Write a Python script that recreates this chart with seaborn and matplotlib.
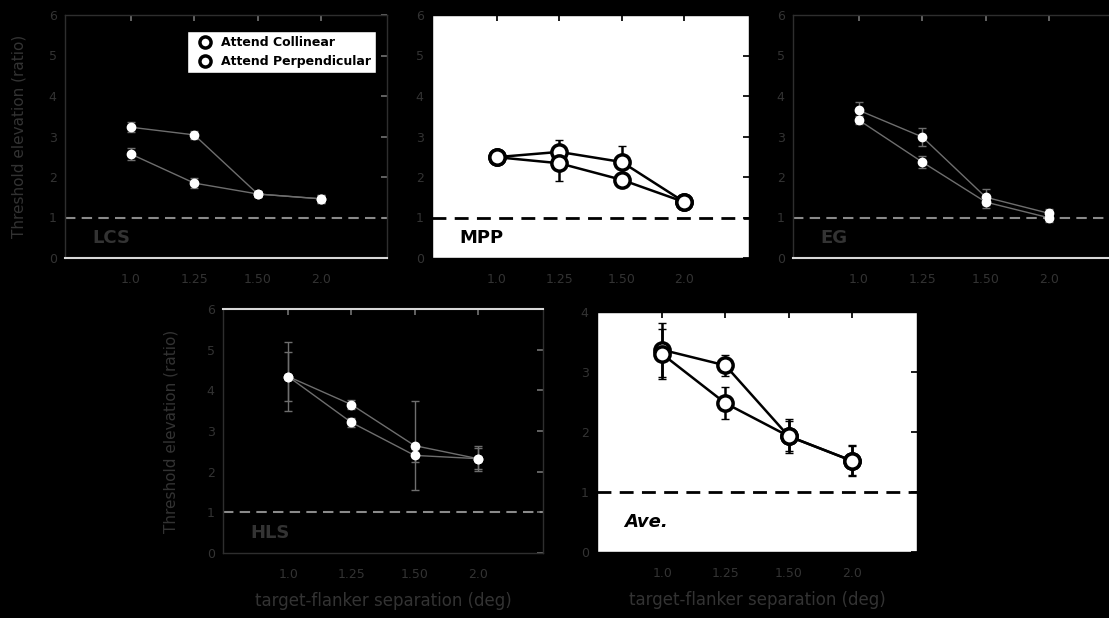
#!/usr/bin/env python3

import numpy as np
import pandas as pd
import seaborn as sns
import matplotlib.pyplot as plt
from matplotlib.lines import Line2D


sns.set_theme(style="white")
plt.rcParams["font.family"] = ["DejaVu Sans"]

sep_labels = ["1.0", "1.25", "1.50", "2.0"]
conditions = ["Attend Collinear", "Attend Perpendicular"]

# threshold elevation per observer, collinear / perpendicular
lcs_col = [3.23, 3.04, 1.58, 1.46]
lcs_perp = [2.57, 1.85, 1.58, 1.46]
lcs_col_err = [0.12, 0.10, 0.08, 0.10]
lcs_perp_err = [0.15, 0.12, 0.08, 0.10]

mpp_col = [2.49, 2.62, 2.37, 1.38]
mpp_perp = [2.49, 2.34, 1.93, 1.38]
mpp_col_err = [0.08, 0.30, 0.40, 0.12]
mpp_perp_err = [0.08, 0.45, 0.12, 0.12]

eg_col = [3.65, 2.99, 1.50, 1.10]
eg_perp = [3.41, 2.37, 1.38, 0.99]
eg_col_err = [0.20, 0.22, 0.20, 0.12]
eg_perp_err = [0.10, 0.15, 0.15, 0.10]

hls_col = [4.34, 3.65, 2.64, 2.32]
hls_perp = [4.34, 3.21, 2.40, 2.32]
hls_col_err = [0.85, 0.12, 1.10, 0.30]
hls_perp_err = [0.60, 0.10, 0.15, 0.25]

avg_col = [3.37, 3.11, 1.93, 1.52]
avg_perp = [3.30, 2.48, 1.93, 1.52]
avg_col_err = [0.45, 0.17, 0.28, 0.26]
avg_perp_err = [0.42, 0.27, 0.25, 0.24]

DIM = "#333333"

fig = plt.figure(figsize=(11.09, 6.18), dpi=100, facecolor="black")
W, H = 1109, 618


def add_axes(x0, y0, x1, y1):
    return fig.add_axes([x0 / W, 1 - y1 / H, (x1 - x0) / W, (y1 - y0) / H])


def panel(ax, col, perp, col_err, perp_err, name, ymax, light,
          italic=False, white_spine=None):
    pos = np.arange(len(sep_labels))
    df = pd.DataFrame({
        "pos": np.concatenate([pos, pos]),
        "thr": col + perp,
        "cond": [conditions[0]] * 4 + [conditions[1]] * 4,
    })
    fg = "black" if light else "#6e6e6e"
    ax.set_facecolor("white" if light else "black")
    ax.axhline(1, color="black" if light else "#8a8a8a", ls=(0, (5, 3)),
               lw=2 if light else 1.5, zorder=1)
    for vals, err in [(col, col_err), (perp, perp_err)]:
        ax.errorbar(pos, vals, yerr=err, fmt="none", ecolor=fg,
                    elinewidth=1.8 if light else 1, capsize=3, zorder=2)
    if light:
        mk = dict(markersize=11, markerfacecolor="white",
                  markeredgecolor="black", markeredgewidth=2.5)
    else:
        mk = dict(markersize=6, markerfacecolor="white",
                  markeredgecolor="white", markeredgewidth=1)
    sns.lineplot(data=df, x="pos", y="thr", hue="cond",
                 palette=[fg, fg], marker="o", lw=1.8 if light else 1,
                 legend=False, ax=ax, zorder=3, **mk)
    ax.set_xlim(-1.03, 4.03)
    ax.set_ylim(0, ymax)
    ax.set_xticks(pos, sep_labels)
    ax.set_yticks(range(ymax + 1))
    ax.set_xlabel("")
    ax.set_ylabel("")
    ax.tick_params(direction="in", top=True, right=True, length=4,
                   colors=fg, labelcolor=DIM, labelsize=9, pad=6)
    ax.tick_params(axis="x", pad=11)
    for s in ax.spines.values():
        s.set_color("black" if light else "#2e2e2e")
        s.set_linewidth(1)
    if white_spine:
        ax.spines[white_spine].set_color("#d8d8d8")
        ax.spines[white_spine].set_linewidth(1.5)
    ax.text(-0.6, 0.5, name, color="black" if light else DIM,
            fontsize=13, fontweight="bold",
            fontstyle="italic" if italic else "normal", va="center")


ax1 = add_axes(65, 15, 387, 258)
panel(ax1, lcs_col, lcs_perp, lcs_col_err, lcs_perp_err, "LCS", 6, False,
      white_spine="bottom")
ax1.set_ylabel("Threshold elevation (ratio)", color=DIM, fontsize=11,
               labelpad=16)
handles = [Line2D([], [], ls="", marker="o", markersize=8,
                  markerfacecolor="white", markeredgecolor="black",
                  markeredgewidth=2.5, label=c) for c in conditions]
leg = ax1.legend(handles=handles, loc="upper right", frameon=True,
                 fancybox=False, framealpha=1, borderpad=0.4,
                 handletextpad=0.3, labelcolor="black",
                 prop={"weight": "bold", "size": 9},
                 bbox_to_anchor=(0.985, 0.96))
leg.get_frame().set_facecolor("white")
leg.get_frame().set_edgecolor("black")

ax2 = add_axes(432, 15, 749, 258)
panel(ax2, mpp_col, mpp_perp, mpp_col_err, mpp_perp_err, "MPP", 6, True)

ax3 = add_axes(793, 15, 1115, 258)
panel(ax3, eg_col, eg_perp, eg_col_err, eg_perp_err, "EG", 6, False,
      white_spine="bottom")

ax4 = add_axes(223, 309, 543, 553)
panel(ax4, hls_col, hls_perp, hls_col_err, hls_perp_err, "HLS", 6, False,
      white_spine="top")
ax4.set_ylabel("Threshold elevation (ratio)", color=DIM, fontsize=11,
               labelpad=20)
ax4.set_xlabel("target-flanker separation (deg)", color=DIM, fontsize=12,
               labelpad=8)

ax5 = add_axes(597, 312, 917, 552)
panel(ax5, avg_col, avg_perp, avg_col_err, avg_perp_err, "Ave.", 4, True,
      italic=True)
ax5.set_xlabel("target-flanker separation (deg)", color=DIM, fontsize=12,
               labelpad=8)

plt.savefig("out.png", dpi=100, facecolor="black")
